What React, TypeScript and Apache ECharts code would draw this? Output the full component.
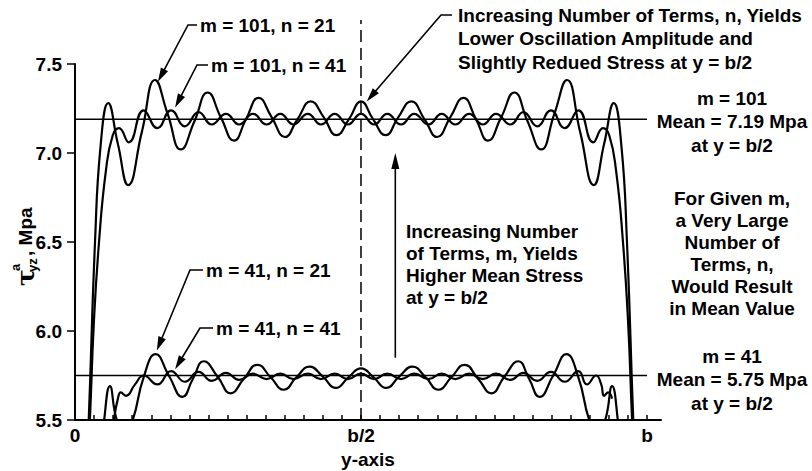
import { useEffect, useRef } from "react";
import * as echarts from "echarts";

const FONT = '"Liberation Sans", Arial, Helvetica, sans-serif';
const BOLD = `bold 19px ${FONT}`;

// x in units of b (0 .. b), y in MPa
const xLabelValues = [0, 0.5, 1];
const xLabelTexts = ["0", "b/2", "b"];
const yMin = 5.5;
const yMax = 7.5;
const yStep = 0.5;

// m = 101, n = 21
const m101n21X = [0.012, 0.024, 0.035, 0.045, 0.058, 0.075, 0.093, 0.117, 0.140, 0.162, 0.185, 0.209, 0.232, 0.255, 0.278, 0.299, 0.321, 0.344, 0.367, 0.389, 0.412, 0.435, 0.457, 0.479, 0.500, 0.521, 0.543, 0.565, 0.588, 0.611, 0.633, 0.656, 0.679, 0.701, 0.722, 0.745, 0.768, 0.791, 0.815, 0.838, 0.860, 0.883, 0.907, 0.925, 0.942, 0.955, 0.965, 0.976, 0.988];
const m101n21Y = [4.60, 5.50, 6.50, 7.05, 7.28, 7.05, 6.82, 7.12, 7.41, 7.22, 7.02, 7.18, 7.34, 7.20, 7.07, 7.19, 7.31, 7.20, 7.09, 7.19, 7.29, 7.20, 7.10, 7.19, 7.29, 7.19, 7.10, 7.20, 7.29, 7.19, 7.09, 7.20, 7.31, 7.19, 7.07, 7.20, 7.34, 7.18, 7.02, 7.22, 7.41, 7.12, 6.82, 7.05, 7.28, 7.05, 6.50, 5.50, 4.60];

// m = 101, n = 41
const m101n41X = [0.018, 0.026, 0.033, 0.042, 0.054, 0.066, 0.077, 0.094, 0.120, 0.144, 0.168, 0.192, 0.216, 0.239, 0.264, 0.287, 0.311, 0.335, 0.359, 0.382, 0.407, 0.430, 0.454, 0.477, 0.500, 0.523, 0.546, 0.570, 0.593, 0.618, 0.641, 0.665, 0.689, 0.713, 0.736, 0.761, 0.784, 0.808, 0.832, 0.856, 0.880, 0.906, 0.923, 0.934, 0.946, 0.958, 0.967, 0.974, 0.982];
const m101n41Y = [5.00, 5.50, 6.05, 6.50, 6.90, 7.10, 7.14, 7.06, 7.24, 7.14, 7.24, 7.15, 7.23, 7.16, 7.22, 7.16, 7.22, 7.16, 7.22, 7.16, 7.22, 7.16, 7.22, 7.16, 7.22, 7.16, 7.22, 7.16, 7.22, 7.16, 7.22, 7.16, 7.22, 7.16, 7.22, 7.16, 7.23, 7.15, 7.24, 7.14, 7.24, 7.06, 7.14, 7.10, 6.90, 6.50, 6.05, 5.50, 5.00];

// m = 41, n = 21
const m41n21X = [0.042, 0.051, 0.061, 0.073, 0.087, 0.101, 0.120, 0.141, 0.164, 0.188, 0.206, 0.225, 0.250, 0.272, 0.295, 0.319, 0.342, 0.365, 0.387, 0.410, 0.433, 0.456, 0.478, 0.500, 0.522, 0.544, 0.567, 0.590, 0.613, 0.635, 0.658, 0.681, 0.705, 0.728, 0.750, 0.775, 0.794, 0.812, 0.836, 0.859, 0.880, 0.899, 0.913, 0.927, 0.939, 0.949, 0.958];
const m41n21Y = [5.20, 5.50, 5.69, 5.50, 5.42, 5.50, 5.74, 5.87, 5.75, 5.63, 5.73, 5.83, 5.74, 5.65, 5.73, 5.81, 5.74, 5.67, 5.74, 5.80, 5.745, 5.68, 5.74, 5.79, 5.74, 5.68, 5.745, 5.80, 5.74, 5.67, 5.74, 5.81, 5.73, 5.65, 5.74, 5.83, 5.73, 5.63, 5.75, 5.87, 5.74, 5.50, 5.42, 5.50, 5.69, 5.50, 5.20];

// m = 41, n = 41
const m41n41X = [0.061, 0.068, 0.075, 0.080, 0.089, 0.105, 0.120, 0.144, 0.168, 0.192, 0.216, 0.239, 0.264, 0.287, 0.311, 0.335, 0.359, 0.382, 0.407, 0.430, 0.454, 0.477, 0.500, 0.523, 0.546, 0.570, 0.593, 0.618, 0.641, 0.665, 0.689, 0.713, 0.736, 0.761, 0.784, 0.808, 0.832, 0.856, 0.880, 0.895, 0.911, 0.920, 0.925, 0.932, 0.939];
const m41n41Y = [5.30, 5.50, 5.62, 5.655, 5.636, 5.70, 5.75, 5.70, 5.775, 5.715, 5.77, 5.72, 5.765, 5.725, 5.76, 5.73, 5.76, 5.73, 5.76, 5.73, 5.76, 5.73, 5.76, 5.73, 5.76, 5.73, 5.76, 5.73, 5.76, 5.73, 5.76, 5.73, 5.76, 5.725, 5.765, 5.72, 5.77, 5.715, 5.775, 5.70, 5.75, 5.70, 5.636, 5.655, 5.62, 5.50, 5.30].slice(0, 45);

// mean values
const meanX = [0, 1];
const meanM101 = [7.19, 7.19];
const meanM41 = [5.75, 5.75];

const zip = (xs: number[], ys: number[]) => xs.map((x, i) => [x, ys[i]]);

function arrow(points: number[][], head = 14, half = 4): any[] {
  const n = points.length;
  const [x1, y1] = points[n - 2];
  const [x2, y2] = points[n - 1];
  const dx = x2 - x1, dy = y2 - y1;
  const L = Math.hypot(dx, dy);
  const ux = dx / L, uy = dy / L;
  const bx = x2 - ux * head, by = y2 - uy * head;
  const linePts = points.slice(0, n - 1).concat([[bx + ux * 2, by + uy * 2]]);
  return [
    { type: "polyline", silent: true, z: 50, shape: { points: linePts }, style: { stroke: "#000", lineWidth: 1.6, fill: null } },
    { type: "polygon", silent: true, z: 50, shape: { points: [[x2, y2], [bx - uy * half, by + ux * half], [bx + uy * half, by - ux * half]] }, style: { fill: "#000" } },
  ];
}

function txt(text: string, x: number, y: number, align: string, lh = 23.3): any {
  return {
    type: "text", silent: true, z: 50, x, y,
    style: { text, font: BOLD, fill: "#000", align, textAlign: align, verticalAlign: "top", textVerticalAlign: "top", lineHeight: lh },
  };
}

export default function App() {
  const ref = useRef<HTMLDivElement>(null);
  useEffect(() => {
    document.body.style.margin = "0";
    const chart = echarts.init(ref.current!, null, { renderer: "svg" });
    const curve = (name: string, data: number[][], width = 2.2) => ({
      name, type: "line", data, smooth: 0.5, symbol: "none", showSymbol: false, clip: true,
      lineStyle: { color: "#000", width }, itemStyle: { color: "#000" }, z: 3,
    });
    const xTicks: number[] = [];
    for (let k = 0; k <= 30; k++) xTicks.push(k / 30);
    chart.setOption({
      animation: false,
      backgroundColor: "#fff",
      grid: { left: 75, right: 151, top: 64, bottom: 51, containLabel: false, outerBoundsMode: "none" },
      xAxis: {
        type: "value", min: 0, max: 1.0245,
        axisLine: { show: true, lineStyle: { color: "#000", width: 2 } },
        axisTick: { show: true, inside: true, length: 5, customValues: xTicks, lineStyle: { color: "#000", width: 1.5 } },
        axisLabel: {
          customValues: xLabelValues, color: "#000", fontSize: 19, fontWeight: "bold", fontFamily: FONT, margin: 6,
          formatter: (v: number) => {
            let best = 0;
            xLabelValues.forEach((lv, i) => { if (Math.abs(lv - v) < Math.abs(xLabelValues[best] - v)) best = i; });
            return xLabelTexts[best];
          },
        },
        splitLine: { show: false },
        name: "y-axis", nameLocation: "middle", nameGap: 27,
        nameTextStyle: { color: "#000", fontSize: 19, fontWeight: "bold", fontFamily: FONT, lineHeight: 19 },
      },
      yAxis: {
        type: "value", min: yMin, max: yMax, interval: yStep,
        axisLine: { show: true, lineStyle: { color: "#000", width: 2 } },
        axisTick: { show: true, inside: false, length: 8, lineStyle: { color: "#000", width: 1.5 } },
        axisLabel: { color: "#000", fontSize: 19, fontWeight: "bold", fontFamily: FONT, margin: 13, formatter: (v: number) => v.toFixed(1) },
        splitLine: { show: false },
      },
      series: [
        curve("m=101, n=21", zip(m101n21X, m101n21Y)),
        curve("m=101, n=41", zip(m101n41X, m101n41Y)),
        curve("m=41, n=21", zip(m41n21X, m41n21Y)),
        curve("m=41, n=41", zip(m41n41X, m41n41Y)),
        { ...curve("mean m=101", zip(meanX, meanM101), 1.5), smooth: false },
        { ...curve("mean m=41", zip(meanX, meanM41), 1.5), smooth: false },
      ],
    });

    const px = (p: number[]) => chart.convertToPixel({ gridIndex: 0 }, p) as number[];
    const mid0 = px([0.5, yMin]);
    const g: any[] = [];
    // dashed line at b/2
    g.push({ type: "line", silent: true, z: 40, shape: { x1: mid0[0], y1: mid0[1], x2: mid0[0], y2: 20 }, style: { stroke: "#000", lineWidth: 1.5, lineDash: [12, 6] } });

    // label arrows
    g.push(...arrow([[197, 25], [188, 25], px([0.145, 7.40])]));
    g.push(txt("m = 101, n = 21", 200, 14, "left"));
    g.push(...arrow([[208, 65], [197, 65], px([0.175, 7.255])]));
    g.push(txt("m = 101, n = 41", 211, 54, "left"));
    g.push(...arrow([[203, 270], [190, 270], px([0.143, 5.89])]));
    g.push(txt("m = 41, n = 21", 206, 259, "left"));
    g.push(...arrow([[213, 328], [200, 328], px([0.175, 5.785])]));
    g.push(txt("m = 41, n = 41", 216, 317, "left"));

    // n-effect annotation
    g.push(...arrow([[452, 15], [441, 15], px([0.51, 7.29])]));
    g.push(txt("Increasing Number of Terms, n, Yields\nLower Oscillation Amplitude and\nSlightly Redued Stress at y = b/2", 458, 4, "left"));

    // m-effect arrow
    g.push(...arrow([px([0.56, 5.85]), px([0.56, 7.0])], 16, 4));
    g.push(txt("Increasing Number\nof Terms, m, Yields\nHigher Mean Stress\nat y = b/2", 406, 220, "left", 22));

    // right side notes
    g.push(txt("m = 101\nMean = 7.19 Mpa\nat y = b/2", 732, 87, "center"));
    g.push(txt("For Given m,\na Very Large\nNumber of\nTerms, n,\nWould Result\nin Mean Value", 732, 187, "center", 22));
    g.push(txt("m = 41\nMean = 5.75 Mpa\nat y = b/2", 732, 345, "center"));

    // y-axis name: tau^a_yz, Mpa (rotated)
    g.push({
      type: "group", x: 25, y: 286, rotation: Math.PI / 2, silent: true, z: 50,
      children: [
        { type: "text", x: 0, y: 0, style: { text: "τ", font: `bold 25px "DejaVu Serif", ${FONT}`, fill: "#000", align: "left", verticalAlign: "middle" } },
        { type: "text", x: 15, y: -10, style: { text: "a", font: `bold 13px ${FONT}`, fill: "#000", align: "left", verticalAlign: "middle" } },
        { type: "text", x: 14, y: 7, style: { text: "yz", font: `bold 13px ${FONT}`, fill: "#000", align: "left", verticalAlign: "middle" } },
        { type: "text", x: 30, y: 0, style: { text: ", Mpa", font: BOLD, fill: "#000", align: "left", verticalAlign: "middle" } },
      ],
    });

    chart.setOption({ graphic: g });
    return () => chart.dispose();
  }, []);
  return <div ref={ref} style={{ width: 812, height: 471 }} />;
}
